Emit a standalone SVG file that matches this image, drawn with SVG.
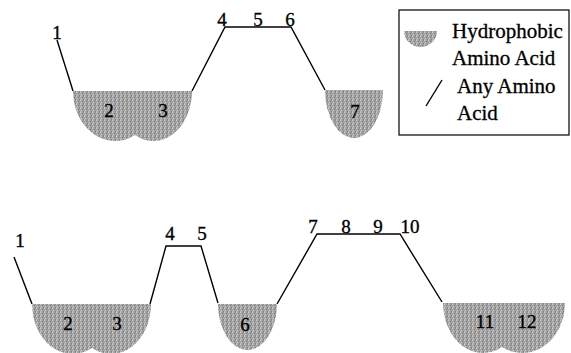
<svg xmlns="http://www.w3.org/2000/svg" width="571" height="353" viewBox="0 0 571 353">
<style>
.t{font-family:"Liberation Serif","Times New Roman",serif;font-size:19px;fill:#000;stroke:#000;stroke-width:0.35;text-anchor:middle}
.lg{font-family:"Liberation Serif","Times New Roman",serif;font-size:21px;fill:#000;stroke:#000;stroke-width:0.3}
.h{fill:url(#grain);stroke:none}
.c{fill:none;stroke:#000;stroke-width:1.4}
</style>
<defs>
<pattern id="grain" width="4" height="4" patternUnits="userSpaceOnUse">
<rect width="4" height="4" fill="#a4a4a4"/>
<rect x="0" y="0" width="1" height="1" fill="#d0d0d0"/>
<rect x="2" y="1" width="1" height="1" fill="#7a7a7a"/>
<rect x="1" y="2" width="1" height="1" fill="#c8c8c8"/>
<rect x="3" y="3" width="1" height="1" fill="#808080"/>
<rect x="3" y="0" width="1" height="1" fill="#8c8c8c"/>
<rect x="0" y="3" width="1" height="1" fill="#bcbcbc"/>
</pattern>
</defs>
<rect width="571" height="353" fill="#fff"/>

<g id="connectors">
<polyline class="c" points="57,40 73,91"/>
<polyline class="c" points="192,91 225,27 291,27 325,90"/>
<polyline class="c" points="14,257 32,304"/>
<polyline class="c" points="150,304 166,246 201,246 218,303"/>
<polyline class="c" points="277,304 317,234 400,234 442,302"/>
</g>

<g id="top-1"><text class="t" x="57" y="39">1</text></g>
<g id="top-2-3">
<path class="h" d="M73,91 H192 A38.6,50 0 0 1 135,135 A42,50 0 0 1 73,91 Z"/>
<text class="t" x="109" y="117">2</text>
<text class="t" x="163" y="117">3</text>
</g>
<g id="top-4-5-6">
<text class="t" x="222" y="26">4</text>
<text class="t" x="258" y="26">5</text>
<text class="t" x="290" y="26">6</text>
</g>
<g id="top-7">
<path class="h" d="M325,90 H383 A29,48 0 0 1 325,90 Z"/>
<text class="t" x="355" y="118">7</text>
</g>

<g id="bottom-1"><text class="t" x="20" y="247">1</text></g>
<g id="bottom-2-3">
<path class="h" d="M32,304 H151 A40,50 0 0 1 92,348 A40.7,50 0 0 1 32,304 Z"/>
<text class="t" x="68" y="330">2</text>
<text class="t" x="117" y="330">3</text>
</g>
<g id="bottom-4-5">
<text class="t" x="170" y="240">4</text>
<text class="t" x="202" y="240">5</text>
</g>
<g id="bottom-6">
<path class="h" d="M218,304 H277 A29.5,46 0 0 1 218,304 Z"/>
<text class="t" x="245" y="331">6</text>
</g>
<g id="bottom-7-10">
<text class="t" x="313" y="233">7</text>
<text class="t" x="346" y="233">8</text>
<text class="t" x="378" y="233">9</text>
<text class="t" x="410" y="233">10</text>
</g>
<g id="bottom-11-12">
<path class="h" d="M443,303 H565 A42.7,50 0 0 1 502,347 A40,50 0 0 1 443,303 Z"/>
<text class="t" x="485" y="328">11</text>
<text class="t" x="527" y="328">12</text>
</g>

<g id="legend">
<rect x="399" y="10" width="170" height="125" fill="none" stroke="#000" stroke-width="1.2"/>
<path class="h" d="M404,31 H437 A16.5,16 0 0 1 404,31 Z"/>
<text class="lg" x="452" y="38">Hydrophobic</text>
<text class="lg" x="452" y="65">Amino Acid</text>
<line class="c" x1="426" y1="106" x2="442" y2="80"/>
<text class="lg" x="457" y="93">Any Amino</text>
<text class="lg" x="457" y="120">Acid</text>
</g>
</svg>
